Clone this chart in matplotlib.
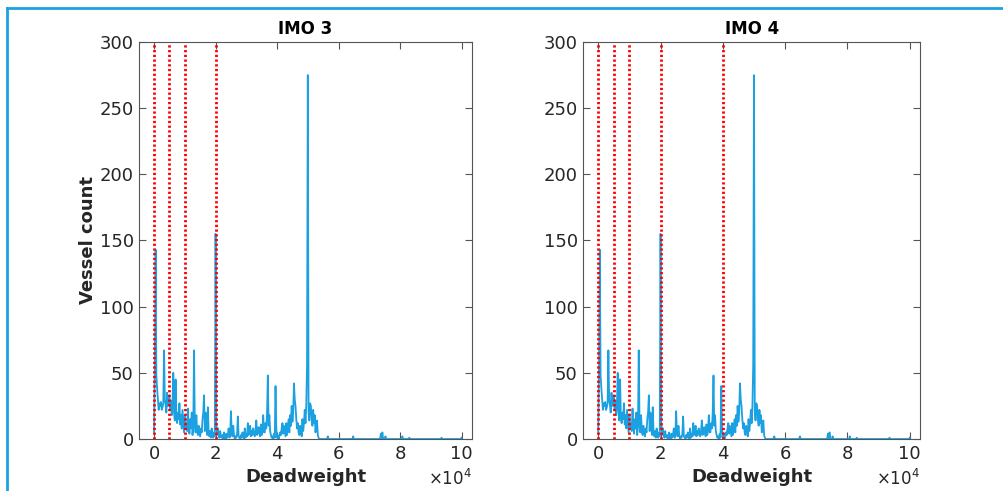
import numpy as np
import matplotlib.pyplot as plt
from matplotlib.lines import Line2D

# vessel counts per 250 dwt bin, 0 .. 54750
counts_main = [
    5, 58, 143, 48,   38, 30, 22, 27,   25, 28, 22, 24,   27, 67, 30, 26,
    20, 35, 25, 30,   33, 22, 29, 18,   26, 50, 20, 14,   45, 18, 12, 20,
    15, 27, 11, 18,   8, 22, 13, 5,     18, 9, 12, 6,     23, 10, 4, 15,
    8, 20, 3, 9,      67, 12, 5, 18,    6, 3, 10, 4,      2, 8, 5, 15,
    20, 33, 6, 20,    9, 3, 24, 5,      2, 6, 1, 8,       3, 1, 5, 2,
    155, 12, 3, 8,    4, 1, 6, 2,       1, 3, 0, 5,       2, 0, 4, 1,
    3, 8, 1, 2,       21, 5, 2, 10,     3, 0, 2, 1,       4, 17, 2, 1,
    0, 3, 1, 5,       2, 0, 8, 1,       4, 2, 12, 3,      5, 10, 2, 6,
    3, 8, 4, 2,       6, 14, 3, 5,      9, 4, 2, 11,      3, 7, 18, 5,
    5, 12, 8, 20,     48, 10, 18, 6,    3, 1, 2, 0,       4, 1, 40, 8,
    1, 3, 0, 2,       5, 3, 8, 12,      4, 10, 6, 2,      12, 3, 9, 15,
    5, 18, 10, 25,    13, 20, 42, 30,   25, 15, 8, 12,    5, 3, 10, 8,
    2, 15, 6, 12,     22, 12, 25, 56,   275, 20, 14, 27,  25, 15, 10, 22,
    12, 18, 5, 10,    14, 3, 1, 0,      0, 0, 0, 0,
]
tail_dwt = [56500, 64750, 73750, 74250, 75250, 80750, 83000, 93500, 100000]
tail_count = [2, 2, 4, 5, 2, 2, 1, 1, 1]

bin_width = 250
dwt = np.arange(0, 100001, bin_width)
counts = np.zeros(len(dwt))
counts[:len(counts_main)] = counts_main
for d, c in zip(tail_dwt, tail_count):
    counts[d // bin_width] = c

titles = ['IMO 3', 'IMO 4']
limits = [[0, 5000, 10000, 20000], [0, 5000, 10000, 20000, 40000]]
xticks = [0, 20000, 40000, 60000, 80000, 100000]
xtick_labels = ['0', '2', '4', '6', '8', '10']

plt.rcParams['font.family'] = ['DejaVu Sans']
fig = plt.figure(figsize=(10.04, 4.91), dpi=100)

W, H = 1004, 491
boxes = [(139.3, 471.7), (583.3, 920.0)]
top, bottom = 42.0, 439.0
line_col = '#1ba1e2'
txt_col = '#262626'

for i in range(2):
    x0, x1 = boxes[i]
    ax = fig.add_axes([x0 / W, 1 - bottom / H, (x1 - x0) / W, (bottom - top) / H])
    ax.plot(dwt, counts, color=line_col, lw=1.3)
    for v in limits[i]:
        ax.plot([v, v], [0, 300], color='red', ls=(0, (0.8, 0.9)), lw=2.0)
    ax.set_xlim(-4800, 103300)
    ax.set_ylim(0, 300)
    ax.set_xticks(xticks)
    ax.set_xticklabels(xtick_labels)
    ax.set_yticks(range(0, 301, 50))
    ax.tick_params(direction='in', length=5, width=0.8, top=True, right=True,
                   labelsize=13, colors='#555555', labelcolor=txt_col, pad=4)
    for s in ax.spines.values():
        s.set_color('#555555')
        s.set_linewidth(0.8)
    ax.set_title(titles[i], fontsize=12, fontweight='bold', color='black', pad=6)
    ax.set_xlabel('Deadweight', fontsize=13, fontweight='bold', color=txt_col, labelpad=4)
    ax.text(1.0, -0.125, r'$\times10^{4}$', transform=ax.transAxes, ha='right', va='bottom',
            fontsize=12, color=txt_col)
    if i == 0:
        ax.set_ylabel('Vessel count', fontsize=13, fontweight='bold', color=txt_col, labelpad=2)

# frame of the surrounding panel
fig.add_artist(Line2D([6.7 / W, 6.7 / W], [0, 1 - 8.3 / H], transform=fig.transFigure,
                      color='#1aa3e0', lw=2))
fig.add_artist(Line2D([6.7 / W, 1], [1 - 8.3 / H, 1 - 8.3 / H], transform=fig.transFigure,
                      color='#1aa3e0', lw=2))

fig.savefig('out.png', dpi=100)
